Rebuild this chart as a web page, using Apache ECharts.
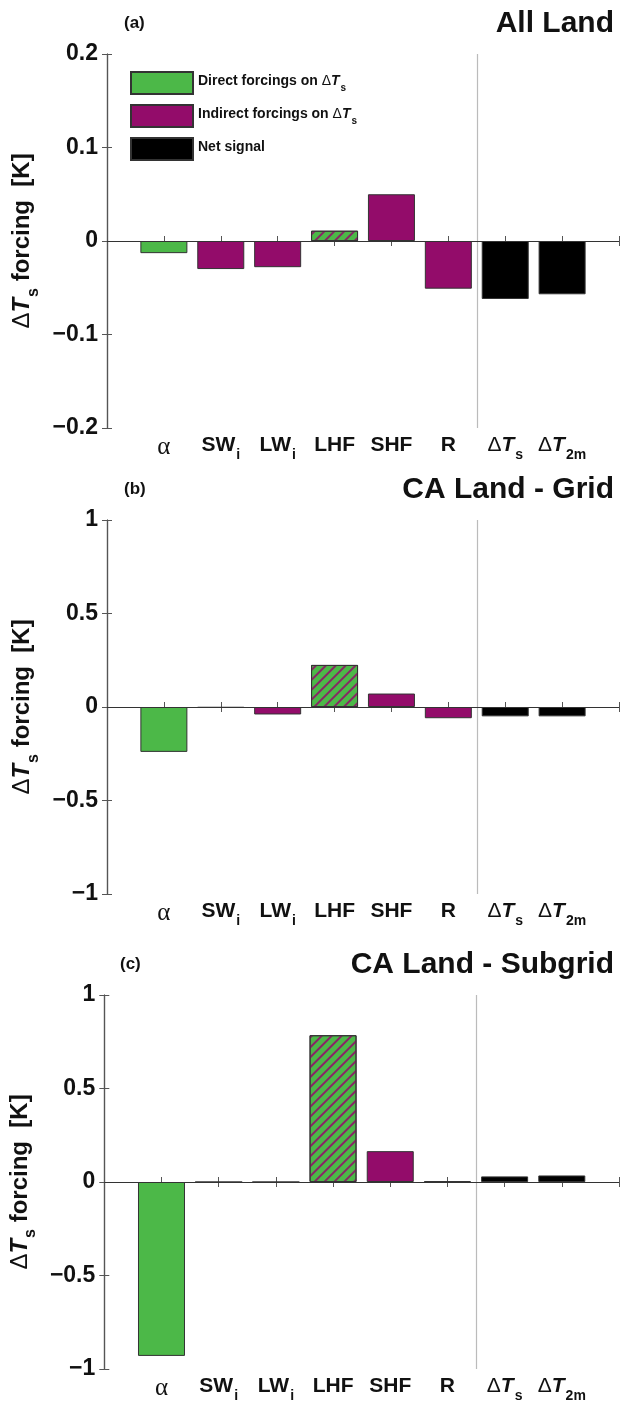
<!DOCTYPE html>
<html>
<head>
<meta charset="utf-8">
<script src="https://cdn.jsdelivr.net/npm/echarts@6/dist/echarts.min.js"></script>
<style>
html,body{margin:0;padding:0;background:#fff;}
#chart{width:622px;height:1412px;}
</style>
</head>
<body>
<div id="chart"></div>
<script>
// categories along x (underscore = subscript)
const categories = ['α', 'SW_i', 'LW_i', 'LHF', 'SHF', 'R', 'ΔT_s', 'ΔT_2m'];
// which bar group each category belongs to
const groups = ['direct', 'indirect', 'indirect', 'hatched', 'indirect', 'indirect', 'net', 'net'];

// forcing values [K]
const allLand   = [-0.013, -0.030, -0.028, 0.011, 0.050, -0.051, -0.062, -0.057];
const caGrid    = [-0.24, -0.004, -0.040, 0.225, 0.072, -0.060, -0.050, -0.050];
const caSubgrid = [-0.93, 0.0, 0.0, 0.785, 0.165, 0.004, 0.030, 0.035];

const panelTags   = ['(a)', '(b)', '(c)'];
const panelTitles = ['All Land', 'CA Land - Grid', 'CA Land - Subgrid'];
const yTicksA  = [-0.2, -0.1, 0, 0.1, 0.2];
const yTicksBC = [-1, -0.5, 0, 0.5, 1];

const seriesNames = ['Direct forcings on ΔT_s', 'Indirect forcings on ΔT_s', 'Net signal'];

const GREEN = '#4cb848', PURPLE = '#930c6a', BLACK = '#000000';
const FONT = 'Liberation Sans, Arial, sans-serif';

// panel layout
const panels = [
  {data: allLand,   ticks: yTicksA,  left: 107, top: 54},
  {data: caGrid,    ticks: yTicksBC, left: 107, top: 520},
  {data: caSubgrid, ticks: yTicksBC, left: 103, top: 995}
];
const PW = 518, PH = 374;

function richText(c) {
  if (c === 'α') return '{g|α}';
  const parts = c.split('_');
  let base = parts[0], sub = parts[1];
  let out = '';
  if (base.charAt(0) === 'Δ') { out += '{d|Δ}{t|' + base.slice(1) + '}'; }
  else out += '{b|' + base + '}';
  if (sub) out += '{s|' + sub + '}';
  return out;
}

const labelRich = {
  b: {fontFamily: FONT, fontWeight: 'bold', fontSize: 21, lineHeight: 24, verticalAlign: 'top', color: '#111'},
  g: {fontFamily: 'Liberation Serif, serif', fontSize: 25, lineHeight: 24, verticalAlign: 'top', color: '#111'},
  d: {fontFamily: FONT, fontSize: 21, lineHeight: 24, verticalAlign: 'top', color: '#111'},
  t: {fontFamily: FONT, fontWeight: 'bold', fontStyle: 'italic', fontSize: 21, lineHeight: 24, verticalAlign: 'top', color: '#111'},
  s: {fontFamily: FONT, fontWeight: 'bold', fontSize: 14, lineHeight: 14, padding: [13, 0, 0, 1], verticalAlign: 'top', color: '#111'}
};

const nameRich = {
  d: {fontFamily: FONT, fontSize: 24, lineHeight: 28, verticalAlign: 'top', color: '#111'},
  t: {fontFamily: FONT, fontWeight: 'bold', fontStyle: 'italic', fontSize: 24, lineHeight: 28, verticalAlign: 'top', color: '#111'},
  s: {fontFamily: FONT, fontWeight: 'bold', fontSize: 16, lineHeight: 16, padding: [15, 0, 0, 1], verticalAlign: 'top', color: '#111'},
  n: {fontFamily: FONT, fontWeight: 'bold', fontSize: 24, lineHeight: 28, verticalAlign: 'top', color: '#111'}
};

const legendRich = {
  n: {fontFamily: FONT, fontWeight: 'bold', fontSize: 14, lineHeight: 17, verticalAlign: 'top', color: '#111'},
  d: {fontFamily: FONT, fontSize: 14, lineHeight: 17, verticalAlign: 'top', color: '#111'},
  t: {fontFamily: FONT, fontWeight: 'bold', fontStyle: 'italic', fontSize: 14, lineHeight: 17, verticalAlign: 'top', color: '#111'},
  s: {fontFamily: FONT, fontWeight: 'bold', fontSize: 10, lineHeight: 10, padding: [9, 0, 0, 1], verticalAlign: 'top', color: '#111'}
};

function legendText(name) {
  const parts = name.split('_');
  if (parts.length === 1) return '{n|' + name + '}';
  const head = parts[0];  // "... on ΔT"
  return '{n|' + head.slice(0, -2) + '}{d|Δ}{t|T}{s|' + parts[1] + '}';
}

// diagonal "/" hatch for the LHF bar
const hatch = {
  symbol: 'rect', symbolSize: 1,
  dashArrayX: [1, 0], dashArrayY: [1.3, 4.3],
  rotation: -Math.PI / 4,
  color: 'rgba(147,12,106,0.85)'
};

const grid = [], xAxis = [], yAxis = [], series = [], title = [];

panels.forEach((p, k) => {
  grid.push({left: p.left, top: p.top, width: PW, height: PH});
  const lineCol = '#555';
  xAxis.push({
    type: 'value', gridIndex: k, min: 0, max: categories.length + 1, interval: 1,
    splitLine: {show: false},
    axisLine: {lineStyle: {color: lineCol, width: 1.2}},
    axisTick: {inside: true, length: 5, lineStyle: {color: lineCol}},
    axisLabel: {
      margin: 7,
      formatter: v => (v >= 1 && v <= categories.length) ? richText(categories[v - 1]) : '',
      rich: labelRich
    }
  });
  xAxis.push({
    type: 'value', gridIndex: k, position: 'top', min: 0, max: categories.length + 1, interval: 1,
    splitLine: {show: false},
    axisLine: {lineStyle: {color: lineCol, width: 1.2}},
    axisTick: {inside: true, length: 5, lineStyle: {color: lineCol}},
    axisLabel: {show: false}
  });
  const t = p.ticks;
  yAxis.push({
    type: 'value', gridIndex: k, min: t[0], max: t[t.length - 1], interval: t[1] - t[0],
    splitLine: {show: false},
    axisLine: {show: true, lineStyle: {color: lineCol, width: 1.2}},
    axisTick: {show: true, inside: true, length: 5, lineStyle: {color: lineCol}},
    axisLabel: {
      margin: 9, fontFamily: FONT, fontWeight: 'bold', fontSize: 23, color: '#111',
      formatter: v => v === 0 ? '0' : String(+v.toFixed(2)).replace('-', '\u2212')
    },
    name: '{d|Δ}{t|T}{s|s}{n| forcing  [K]}',
    nameLocation: 'middle', nameRotate: 90, nameGap: 57,
    nameTextStyle: {rich: nameRich}
  });
  yAxis.push({
    type: 'value', gridIndex: k, position: 'right', min: t[0], max: t[t.length - 1], interval: t[1] - t[0],
    splitLine: {show: false},
    axisLine: {show: true, lineStyle: {color: lineCol, width: 1.2}},
    axisTick: {show: true, inside: true, length: 5, lineStyle: {color: lineCol}},
    axisLabel: {show: false}
  });

  const pick = (g) => p.data.map((v, i) => {
    if (g === 'direct' && groups[i] === 'hatched') {
      return {value: [i + 1, v], itemStyle: {color: GREEN, decal: hatch}};
    }
    return groups[i] === g ? [i + 1, v] : null;
  }).filter(d => d !== null);

  const base = {
    type: 'bar', xAxisIndex: 2 * k, yAxisIndex: 2 * k, barWidth: 47, barGap: '-100%',
    silent: true, animation: false
  };
  series.push(Object.assign({}, base, {
    name: seriesNames[0], data: pick('direct'),
    itemStyle: {color: GREEN, borderColor: '#333', borderWidth: 1}
  }));
  series.push(Object.assign({}, base, {
    name: seriesNames[1], data: pick('indirect'),
    itemStyle: {color: PURPLE, borderColor: '#333', borderWidth: 1}
  }));
  series.push(Object.assign({}, base, {
    name: seriesNames[2], data: pick('net'),
    itemStyle: {color: BLACK, borderColor: '#333', borderWidth: 1},
    markLine: {
      silent: true, symbol: 'none', label: {show: false}, animation: false,
      data: [
        {xAxis: 6.5, lineStyle: {color: '#bbbbbb', width: 1.2, type: 'solid'}},
        {yAxis: 0, lineStyle: {color: '#333', width: 1.2, type: 'solid'}}
      ]
    }
  }));

  title.push({
    text: panelTags[k], left: p.left + 12, top: p.top - 44,
    textStyle: {fontFamily: FONT, fontWeight: 'bold', fontSize: 17, color: '#111'}
  });
  title.push({
    text: panelTitles[k], right: 3, top: p.top - 50,
    textStyle: {fontFamily: FONT, fontWeight: 'bold', fontSize: 30, color: '#111'}
  });
});

const chart = echarts.init(document.getElementById('chart'), null, {renderer: 'canvas'});
chart.setOption({
  backgroundColor: '#ffffff',
  animation: false,
  title: title,
  legend: {
    data: seriesNames, orient: 'vertical', left: 130, top: 71, padding: 0,
    itemWidth: 62, itemHeight: 22, itemGap: 9, icon: 'rect', selectedMode: false,
    formatter: legendText,
    textStyle: {rich: legendRich}
  },
  grid: grid,
  xAxis: xAxis,
  yAxis: yAxis,
  series: series
});
</script>
</body>
</html>
